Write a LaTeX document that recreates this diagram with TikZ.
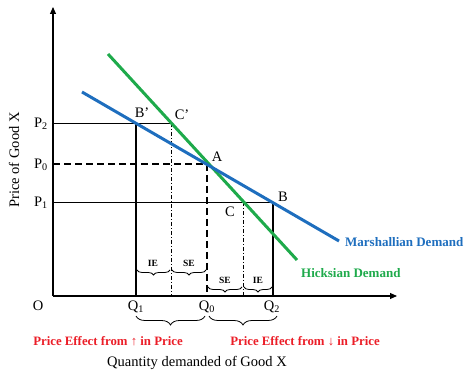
\documentclass[tikz,border=0pt]{standalone}
\usepackage{fontspec}
\setmainfont{Liberation Serif}
\usetikzlibrary{decorations.pathreplacing,arrows.meta}
\definecolor{mblue}{RGB}{30,110,190}
\definecolor{hgreen}{RGB}{30,170,75}
\definecolor{pred}{RGB}{235,30,40}
\tikzset{
  axis/.style={line width=1.1pt,-{Triangle[length=7pt,width=6pt]}},
  thinln/.style={line width=0.7pt},
  thickln/.style={line width=2pt},
  dashln/.style={line width=2pt,dash pattern=on 7pt off 4pt},
  dashdot/.style={line width=0.9pt,dash pattern=on 4pt off 2pt on 1pt off 2pt},
  curve/.style={line width=3pt},
  lbl/.style={font=\fontsize{14.5}{16}\selectfont,inner sep=0pt},
  small/.style={font=\bfseries\fontsize{9.5}{10}\selectfont,inner sep=0pt},
  brc/.style={decorate,decoration={brace,mirror,amplitude=#1},line width=0.8pt},
  redlbl/.style={font=\bfseries\fontsize{12.8}{14}\selectfont,text=pred,inner sep=0pt},
}
\begin{document}
\begin{tikzpicture}[x=1pt,y=-1pt]
\useasboundingbox (0,0) rectangle (474,382);
% key points
\coordinate (O) at (53,296);
\coordinate (Ytip) at (53,7);
\coordinate (Xtip) at (397,296);
\coordinate (Bp) at (136,123);
\coordinate (Cp) at (171,123);
\coordinate (A) at (207,164);
\coordinate (C) at (243,202);
\coordinate (B) at (273,202);
\coordinate (P2a) at (53,123);
\coordinate (P0a) at (53,164);
\coordinate (P1a) at (53,202);
\coordinate (Q1b) at (136,296);
\coordinate (Cpb) at (171,296);
\coordinate (Q0b) at (207,296);
\coordinate (Cb) at (243,296);
\coordinate (Q2b) at (273,296);
\coordinate (M1) at (82,92);
\coordinate (M2) at (339,241);
\coordinate (H1) at (108,54);
\coordinate (H2) at (297,260);
% guide lines
\draw[thinln] (P2a) -- (Cp);
\draw[thinln] (P1a) -- (B);
\draw[dashln] (P0a) -- (A);
\draw[thickln] (Bp) -- (Q1b);
\draw[thickln] (B) -- (Q2b);
\draw[dashln] (A) -- (Q0b);
\draw[dashdot] (Cp) -- (Cpb);
\draw[dashdot] (C) -- (Cb);
% demand curves
\draw[curve,hgreen] (H1) -- (H2);
\draw[curve,mblue] (M1) -- (M2);
% axes
\draw[axis] (O) -- (Ytip);
\draw[axis] (O) -- (Xtip);
% point labels
\node[lbl] (lBp) at (142,113) {B’};
\node[lbl] (lCp) at (182,115) {C’};
\node[lbl] (lA) at (217,157) {A};
\node[lbl] (lC) at (230,212) {C};
\node[lbl] (lB) at (283,197) {B};
\node[lbl] (lP2) at (41,124) {P\textsubscript{2}};
\node[lbl] (lP0) at (41,165) {P\textsubscript{0}};
\node[lbl] (lP1) at (41,203) {P\textsubscript{1}};
\node[lbl] (lO) at (38,306) {O};
\node[lbl] (lQ1) at (136,307) {Q\textsubscript{1}};
\node[lbl] (lQ0) at (207,307) {Q\textsubscript{0}};
\node[lbl] (lQ2) at (272,307) {Q\textsubscript{2}};
\node[lbl,rotate=90] (ylab) at (14,160) {Price of Good X};
\node[lbl] (xlab) at (197,363) {Quantity demanded of Good X};
\node[font=\bfseries\fontsize{13}{15}\selectfont,text=mblue,inner sep=0pt,anchor=west] (mlab) at (345,242) {Marshallian Demand};
\node[font=\bfseries\fontsize{13}{15}\selectfont,text=hgreen,inner sep=0pt,anchor=west] (hlab) at (301,273) {Hicksian Demand};
% small braces
\draw[brc=5pt] (137,270) -- (170,270);
\draw[brc=5pt] (172,270) -- (206,270);
\draw[brc=5pt] (208,287) -- (242,287);
\draw[brc=5pt] (244,287) -- (272,287);
\node[small] (ie1) at (153,263) {IE};
\node[small] (se1) at (189,263) {SE};
\node[small] (se2) at (225,280) {SE};
\node[small] (ie2) at (258,280) {IE};
% big braces
\draw[brc=9pt] (136,316) -- (205,316);
\draw[brc=9pt] (209,316) -- (277,316);
\node[redlbl] (pe1) at (108,341) {Price Effect from ↑ in Price};
\node[redlbl] (pe2) at (305,341) {Price Effect from ↓ in Price};
\end{tikzpicture}
\end{document}
